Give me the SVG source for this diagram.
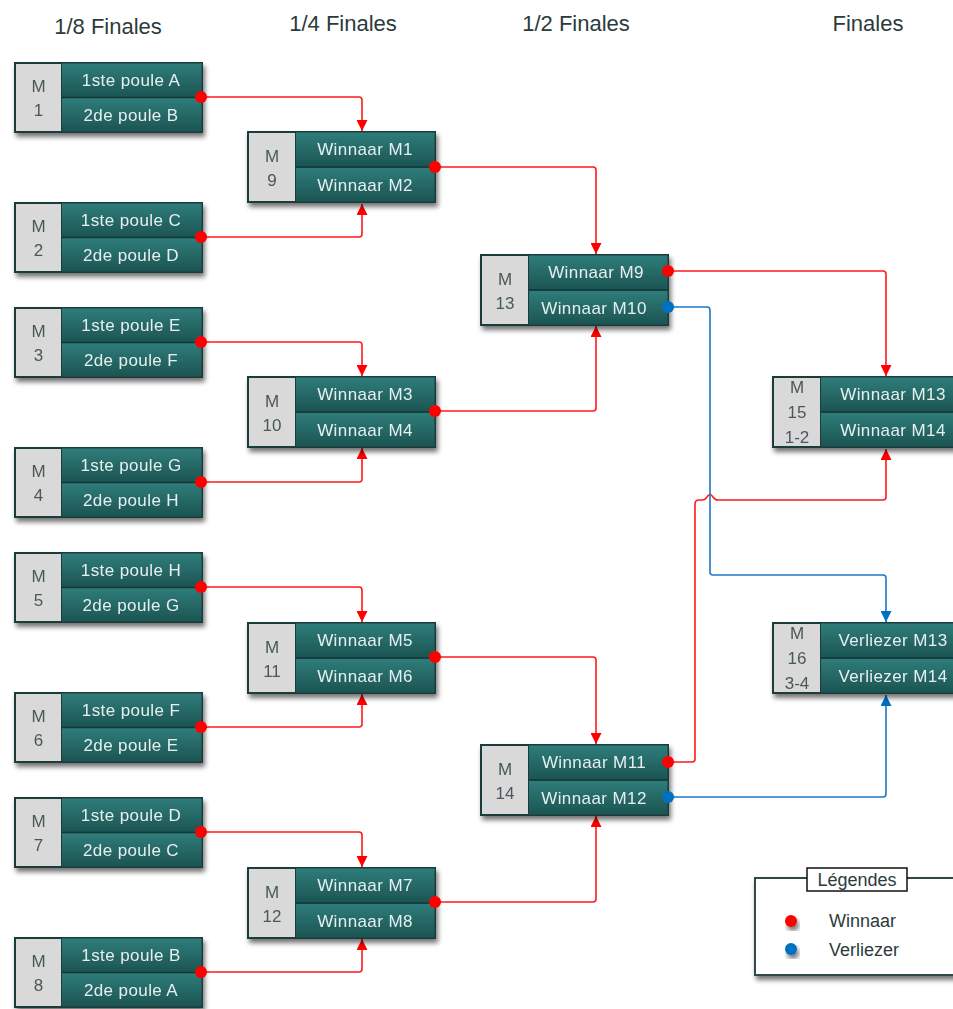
<svg xmlns="http://www.w3.org/2000/svg" width="953" height="1009" viewBox="0 0 953 1009">
<defs>
<linearGradient id="tg" x1="0" y1="0" x2="0" y2="1">
<stop offset="0" stop-color="#2f7d7b"/>
<stop offset="1" stop-color="#1c5452"/>
</linearGradient>
<filter id="sh" x="-10%" y="-10%" width="130%" height="140%">
<feGaussianBlur in="SourceAlpha" stdDeviation="2.5"/>
<feOffset dx="2" dy="4" result="b"/>
<feComponentTransfer><feFuncA type="linear" slope="0.55"/></feComponentTransfer>
<feMerge><feMergeNode/><feMergeNode in="SourceGraphic"/></feMerge>
</filter>
<marker id="ar" viewBox="0 0 10 10" refX="10" refY="5" markerWidth="11" markerHeight="11" markerUnits="userSpaceOnUse" orient="auto">
<path d="M0,0 L10,5 L0,10 z" fill="#ff0000"/>
</marker>
<marker id="ab" viewBox="0 0 10 10" refX="10" refY="5" markerWidth="11" markerHeight="11" markerUnits="userSpaceOnUse" orient="auto">
<path d="M0,0 L10,5 L0,10 z" fill="#0070c0"/>
</marker>
</defs>
<style>
.hd{font-family:"Liberation Sans",Arial,sans-serif;font-size:22px;fill:#2b3b3b;text-anchor:middle}
.ob{fill:#1b3b3b}
.gr{fill:#d9d9d9}
.rw{fill:url(#tg)}
.dv{stroke:#163636;stroke-width:1.5}
.gt{font-family:"Liberation Sans",Arial,sans-serif;font-size:17px;fill:#4a5858;text-anchor:middle;dominant-baseline:central}
.tt{font-family:"Liberation Sans",Arial,sans-serif;font-size:17px;letter-spacing:0.4px;fill:#e6efef;text-anchor:middle;dominant-baseline:central}
.r{fill:none;stroke:#ff1a1a;stroke-width:1.6}
.b{fill:none;stroke:#1a78c8;stroke-width:1.6}
.rd{fill:#ff0000}
.bd{fill:#0070c0}
.lt{font-family:"Liberation Sans",Arial,sans-serif;font-size:18px;fill:#2b3b3b;dominant-baseline:central}
</style>
<rect width="953" height="1009" fill="#ffffff"/>

<g id="headers">
<text class="hd" x="108" y="34">1/8 Finales</text>
<text class="hd" x="343" y="31">1/4 Finales</text>
<text class="hd" x="576" y="31">1/2 Finales</text>
<text class="hd" x="868" y="31">Finales</text>
</g>

<g id="connectors">
<path class="r" d="M201,97 H359 Q362,97 362,100 V131" marker-end="url(#ar)"/>
<path class="r" d="M201,237 H359 Q362,237 362,234 V204" marker-end="url(#ar)"/>
<path class="r" d="M201,342 H359 Q362,342 362,345 V376" marker-end="url(#ar)"/>
<path class="r" d="M201,482 H359 Q362,482 362,479 V448" marker-end="url(#ar)"/>
<path class="r" d="M201,587 H359 Q362,587 362,590 V622" marker-end="url(#ar)"/>
<path class="r" d="M201,727 H359 Q362,727 362,724 V694" marker-end="url(#ar)"/>
<path class="r" d="M201,832 H359 Q362,832 362,835 V867" marker-end="url(#ar)"/>
<path class="r" d="M201,972 H359 Q362,972 362,969 V939" marker-end="url(#ar)"/>
<path class="r" d="M435,167 H593 Q596,167 596,170 V254" marker-end="url(#ar)"/>
<path class="r" d="M435,411 H593 Q596,411 596,408 V326" marker-end="url(#ar)"/>
<path class="r" d="M435,657 H593 Q596,657 596,660 V744" marker-end="url(#ar)"/>
<path class="r" d="M435,902 H593 Q596,902 596,899 V816" marker-end="url(#ar)"/>
<path class="r" d="M668,271 H883 Q886,271 886,274 V376" marker-end="url(#ar)"/>
<path class="r" d="M668,762 H692 Q695,762 695,759 V504 Q695,500 699,500 H703 Q705,500 707,497 Q710,492 713,497 Q715,500 718,500 H883 Q886,500 886,497 V449" marker-end="url(#ar)"/>
<path class="b" d="M668,307 H707 Q710,307 710,310 V572 Q710,575 713,575 H883 Q886,575 886,578 V622" marker-end="url(#ab)"/>
<path class="b" d="M668,797 H883 Q886,797 886,794 V695" marker-end="url(#ab)"/>
</g>

<g id="M1" transform="translate(14,62)" filter="url(#sh)">
<rect class="ob" width="189" height="71"/><rect class="gr" x="2" y="2" width="45" height="67"/>
<rect class="rw" x="48" y="1.5" width="139.5" height="34"/><rect class="rw" x="48" y="36" width="139.5" height="33.5"/>
<line class="dv" x1="48" y1="35.5" x2="188" y2="35.5"/>
<text class="gt" x="24.5" y="24">M</text><text class="gt" x="24.5" y="48">1</text>
<text class="tt" x="117" y="18">1ste poule A</text><text class="tt" x="117" y="53">2de poule B</text>
</g>
<g id="M2" transform="translate(14,202)" filter="url(#sh)">
<rect class="ob" width="189" height="71"/><rect class="gr" x="2" y="2" width="45" height="67"/>
<rect class="rw" x="48" y="1.5" width="139.5" height="34"/><rect class="rw" x="48" y="36" width="139.5" height="33.5"/>
<line class="dv" x1="48" y1="35.5" x2="188" y2="35.5"/>
<text class="gt" x="24.5" y="24">M</text><text class="gt" x="24.5" y="48">2</text>
<text class="tt" x="117" y="18">1ste poule C</text><text class="tt" x="117" y="53">2de poule D</text>
</g>
<g id="M3" transform="translate(14,307)" filter="url(#sh)">
<rect class="ob" width="189" height="71"/><rect class="gr" x="2" y="2" width="45" height="67"/>
<rect class="rw" x="48" y="1.5" width="139.5" height="34"/><rect class="rw" x="48" y="36" width="139.5" height="33.5"/>
<line class="dv" x1="48" y1="35.5" x2="188" y2="35.5"/>
<text class="gt" x="24.5" y="24">M</text><text class="gt" x="24.5" y="48">3</text>
<text class="tt" x="117" y="18">1ste poule E</text><text class="tt" x="117" y="53">2de poule F</text>
</g>
<g id="M4" transform="translate(14,447)" filter="url(#sh)">
<rect class="ob" width="189" height="71"/><rect class="gr" x="2" y="2" width="45" height="67"/>
<rect class="rw" x="48" y="1.5" width="139.5" height="34"/><rect class="rw" x="48" y="36" width="139.5" height="33.5"/>
<line class="dv" x1="48" y1="35.5" x2="188" y2="35.5"/>
<text class="gt" x="24.5" y="24">M</text><text class="gt" x="24.5" y="48">4</text>
<text class="tt" x="117" y="18">1ste poule G</text><text class="tt" x="117" y="53">2de poule H</text>
</g>
<g id="M5" transform="translate(14,552)" filter="url(#sh)">
<rect class="ob" width="189" height="71"/><rect class="gr" x="2" y="2" width="45" height="67"/>
<rect class="rw" x="48" y="1.5" width="139.5" height="34"/><rect class="rw" x="48" y="36" width="139.5" height="33.5"/>
<line class="dv" x1="48" y1="35.5" x2="188" y2="35.5"/>
<text class="gt" x="24.5" y="24">M</text><text class="gt" x="24.5" y="48">5</text>
<text class="tt" x="117" y="18">1ste poule H</text><text class="tt" x="117" y="53">2de poule G</text>
</g>
<g id="M6" transform="translate(14,692)" filter="url(#sh)">
<rect class="ob" width="189" height="71"/><rect class="gr" x="2" y="2" width="45" height="67"/>
<rect class="rw" x="48" y="1.5" width="139.5" height="34"/><rect class="rw" x="48" y="36" width="139.5" height="33.5"/>
<line class="dv" x1="48" y1="35.5" x2="188" y2="35.5"/>
<text class="gt" x="24.5" y="24">M</text><text class="gt" x="24.5" y="48">6</text>
<text class="tt" x="117" y="18">1ste poule F</text><text class="tt" x="117" y="53">2de poule E</text>
</g>
<g id="M7" transform="translate(14,797)" filter="url(#sh)">
<rect class="ob" width="189" height="71"/><rect class="gr" x="2" y="2" width="45" height="67"/>
<rect class="rw" x="48" y="1.5" width="139.5" height="34"/><rect class="rw" x="48" y="36" width="139.5" height="33.5"/>
<line class="dv" x1="48" y1="35.5" x2="188" y2="35.5"/>
<text class="gt" x="24.5" y="24">M</text><text class="gt" x="24.5" y="48">7</text>
<text class="tt" x="117" y="18">1ste poule D</text><text class="tt" x="117" y="53">2de poule C</text>
</g>
<g id="M8" transform="translate(14,937)" filter="url(#sh)">
<rect class="ob" width="189" height="71"/><rect class="gr" x="2" y="2" width="45" height="67"/>
<rect class="rw" x="48" y="1.5" width="139.5" height="34"/><rect class="rw" x="48" y="36" width="139.5" height="33.5"/>
<line class="dv" x1="48" y1="35.5" x2="188" y2="35.5"/>
<text class="gt" x="24.5" y="24">M</text><text class="gt" x="24.5" y="48">8</text>
<text class="tt" x="117" y="18">1ste poule B</text><text class="tt" x="117" y="53">2de poule A</text>
</g>

<g id="M9" transform="translate(247,131)" filter="url(#sh)">
<rect class="ob" width="189" height="72"/><rect class="gr" x="2" y="2" width="46" height="68"/>
<rect class="rw" x="49" y="1.5" width="138.5" height="34.5"/><rect class="rw" x="49" y="36.5" width="138.5" height="34"/>
<line class="dv" x1="49" y1="36" x2="188" y2="36"/>
<text class="gt" x="25" y="25">M</text><text class="gt" x="25" y="49">9</text>
<text class="tt" x="118" y="18">Winnaar M1</text><text class="tt" x="118" y="54">Winnaar M2</text>
</g>
<g id="M10" transform="translate(247,376)" filter="url(#sh)">
<rect class="ob" width="189" height="72"/><rect class="gr" x="2" y="2" width="46" height="68"/>
<rect class="rw" x="49" y="1.5" width="138.5" height="34.5"/><rect class="rw" x="49" y="36.5" width="138.5" height="34"/>
<line class="dv" x1="49" y1="36" x2="188" y2="36"/>
<text class="gt" x="25" y="25">M</text><text class="gt" x="25" y="49">10</text>
<text class="tt" x="118" y="18">Winnaar M3</text><text class="tt" x="118" y="54">Winnaar M4</text>
</g>
<g id="M11" transform="translate(247,622)" filter="url(#sh)">
<rect class="ob" width="189" height="72"/><rect class="gr" x="2" y="2" width="46" height="68"/>
<rect class="rw" x="49" y="1.5" width="138.5" height="34.5"/><rect class="rw" x="49" y="36.5" width="138.5" height="34"/>
<line class="dv" x1="49" y1="36" x2="188" y2="36"/>
<text class="gt" x="25" y="25">M</text><text class="gt" x="25" y="49">11</text>
<text class="tt" x="118" y="18">Winnaar M5</text><text class="tt" x="118" y="54">Winnaar M6</text>
</g>
<g id="M12" transform="translate(247,867)" filter="url(#sh)">
<rect class="ob" width="189" height="72"/><rect class="gr" x="2" y="2" width="46" height="68"/>
<rect class="rw" x="49" y="1.5" width="138.5" height="34.5"/><rect class="rw" x="49" y="36.5" width="138.5" height="34"/>
<line class="dv" x1="49" y1="36" x2="188" y2="36"/>
<text class="gt" x="25" y="25">M</text><text class="gt" x="25" y="49">12</text>
<text class="tt" x="118" y="18">Winnaar M7</text><text class="tt" x="118" y="54">Winnaar M8</text>
</g>

<g id="M13" transform="translate(480,254)" filter="url(#sh)">
<rect class="ob" width="189" height="72"/><rect class="gr" x="2" y="2" width="46" height="68"/>
<rect class="rw" x="49" y="1.5" width="138.5" height="34.5"/><rect class="rw" x="49" y="36.5" width="138.5" height="34"/>
<line class="dv" x1="49" y1="36" x2="188" y2="36"/>
<text class="gt" x="25" y="25">M</text><text class="gt" x="25" y="49">13</text>
<text class="tt" x="116" y="18">Winnaar M9</text><text class="tt" x="114" y="54">Winnaar M10</text>
</g>
<g id="M14" transform="translate(480,744)" filter="url(#sh)">
<rect class="ob" width="189" height="72"/><rect class="gr" x="2" y="2" width="46" height="68"/>
<rect class="rw" x="49" y="1.5" width="138.5" height="34.5"/><rect class="rw" x="49" y="36.5" width="138.5" height="34"/>
<line class="dv" x1="49" y1="36" x2="188" y2="36"/>
<text class="gt" x="25" y="25">M</text><text class="gt" x="25" y="49">14</text>
<text class="tt" x="114" y="18">Winnaar M11</text><text class="tt" x="114" y="54">Winnaar M12</text>
</g>

<g id="M15" transform="translate(772,376)" filter="url(#sh)">
<rect class="ob" width="190" height="72"/><rect class="gr" x="2" y="2" width="46" height="68"/>
<rect class="rw" x="49" y="1.5" width="140" height="34.5"/><rect class="rw" x="49" y="36.5" width="140" height="34"/>
<line class="dv" x1="49" y1="36" x2="190" y2="36"/>
<text class="gt" x="25" y="11">M</text><text class="gt" x="25" y="36">15</text><text class="gt" x="25" y="61">1-2</text>
<text class="tt" x="121" y="18">Winnaar M13</text><text class="tt" x="121" y="54">Winnaar M14</text>
</g>
<g id="M16" transform="translate(772,622)" filter="url(#sh)">
<rect class="ob" width="190" height="72"/><rect class="gr" x="2" y="2" width="46" height="68"/>
<rect class="rw" x="49" y="1.5" width="140" height="34.5"/><rect class="rw" x="49" y="36.5" width="140" height="34"/>
<line class="dv" x1="49" y1="36" x2="190" y2="36"/>
<text class="gt" x="25" y="11">M</text><text class="gt" x="25" y="36">16</text><text class="gt" x="25" y="61">3-4</text>
<text class="tt" x="121" y="18">Verliezer M13</text><text class="tt" x="121" y="54">Verliezer M14</text>
</g>

<g id="dots">
<circle class="rd" cx="201" cy="97" r="6"/>
<circle class="rd" cx="201" cy="237" r="6"/>
<circle class="rd" cx="201" cy="342" r="6"/>
<circle class="rd" cx="201" cy="482" r="6"/>
<circle class="rd" cx="201" cy="587" r="6"/>
<circle class="rd" cx="201" cy="727" r="6"/>
<circle class="rd" cx="201" cy="832" r="6"/>
<circle class="rd" cx="201" cy="972" r="6"/>
<circle class="rd" cx="435" cy="167" r="6"/>
<circle class="rd" cx="435" cy="411" r="6"/>
<circle class="rd" cx="435" cy="657" r="6"/>
<circle class="rd" cx="435" cy="902" r="6"/>
<circle class="rd" cx="668" cy="271" r="6"/>
<circle class="bd" cx="668" cy="307" r="6"/>
<circle class="rd" cx="668" cy="762" r="6"/>
<circle class="bd" cx="668" cy="797" r="6"/>
</g>

<g id="legend">
<rect x="755" y="878" width="210" height="97" fill="#ffffff" stroke="#2d4a4a" stroke-width="2" filter="url(#sh)"/>
<rect x="807" y="868" width="100" height="23" fill="#ffffff" stroke="#111111" stroke-width="1.5"/>
<text class="lt" x="857" y="880" text-anchor="middle">Légendes</text>
<circle class="rd" cx="791" cy="921" r="6" filter="url(#sh)"/>
<circle class="bd" cx="791" cy="949" r="6" filter="url(#sh)"/>
<text class="lt" x="829" y="921">Winnaar</text>
<text class="lt" x="829" y="950">Verliezer</text>
</g>
</svg>
